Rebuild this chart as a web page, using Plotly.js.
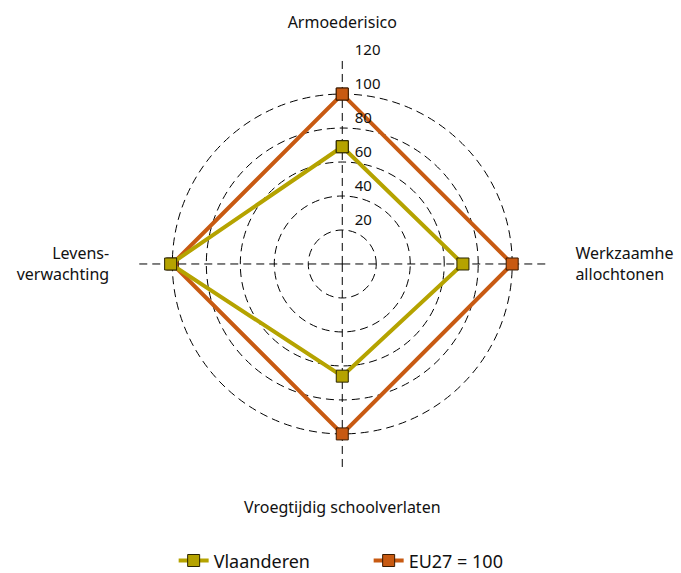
<!DOCTYPE html>
<html>
<head>
<meta charset="utf-8">
<script src="https://cdn.plot.ly/plotly-3.0.1.min.js"></script>
<style>html,body{margin:0;padding:0;overflow:hidden;background:#fff}</style>
</head>
<body>
<div id="chart" style="width:681px;height:573px;"></div>
<script>
const categories = ["Armoederisico", "Werkzaamhe<br>allochtonen", "Vroegtijdig schoolverlaten", "Levens-<br>verwachting"];
const vlaanderen = [69, 71, 66, 101];
const eu27 = [100, 100, 100, 100];
const radialTicks = [20, 40, 60, 80, 100, 120];
const radialTickText = ["20<br>\u00a0", "40<br>\u00a0", "60<br>\u00a0", "80<br>\u00a0", "100<br>\u00a0", "120<br>\u00a0"];

function closed(arr) { return arr.concat([arr[0]]); }

const font = "Noto Sans, Open Sans, sans-serif";

const traces = [
  {
    type: "scatterpolar",
    name: "EU27 = 100",
    r: closed(eu27),
    theta: closed(categories),
    mode: "lines+markers",
    line: {color: "#c85a12", width: 4},
    marker: {symbol: "square", size: 12, color: "#c85a12", line: {color: "#3a1a00", width: 1}},
    cliponaxis: false
  },
  {
    type: "scatterpolar",
    name: "Vlaanderen",
    r: closed(vlaanderen),
    theta: closed(categories),
    mode: "lines+markers",
    line: {color: "#b5a300", width: 4},
    marker: {symbol: "square", size: 12, color: "#b5a300", line: {color: "#2a2500", width: 1}},
    cliponaxis: false
  }
];

const layout = {
  width: 681,
  height: 573,
  margin: {l: 0, r: 0, t: 0, b: 0, autoexpand: false},
  paper_bgcolor: "#ffffff",
  font: {family: font, size: 16, color: "#111"},
  showlegend: true,
  legend: {
    orientation: "h",
    traceorder: "reversed",
    x: 0.255, xanchor: "left",
    y: -0.011, yanchor: "bottom",
    font: {size: 18, family: font},
    entrywidth: 150
  },
  polar: {
    domain: {x: [0.2024, 0.8028], y: [0.1824, 0.8962]},
    bgcolor: "rgba(0,0,0,0)",
    angularaxis: {
      rotation: 90,
      direction: "clockwise",
      showline: false,
      gridcolor: "#000",
      griddash: "8px,5px",
      gridwidth: 1,
      ticks: "outside",
      ticklen: 25,
      tickcolor: "rgba(0,0,0,0)",
      tickfont: {size: 16, family: font}
    },
    radialaxis: {
      range: [0, 120.3],
      tickvals: radialTicks,
      ticktext: radialTickText,
      angle: 90,
      tickangle: 90,
      showline: false,
      gridcolor: "#000",
      griddash: "8px,5px",
      gridwidth: 1,
      ticks: "outside",
      ticklen: 9,
      tickcolor: "rgba(0,0,0,0)",
      tickfont: {size: 15, family: font}
    }
  }
};

Plotly.newPlot("chart", traces, layout, {displayModeBar: false, staticPlot: true});
</script>
</body>
</html>
